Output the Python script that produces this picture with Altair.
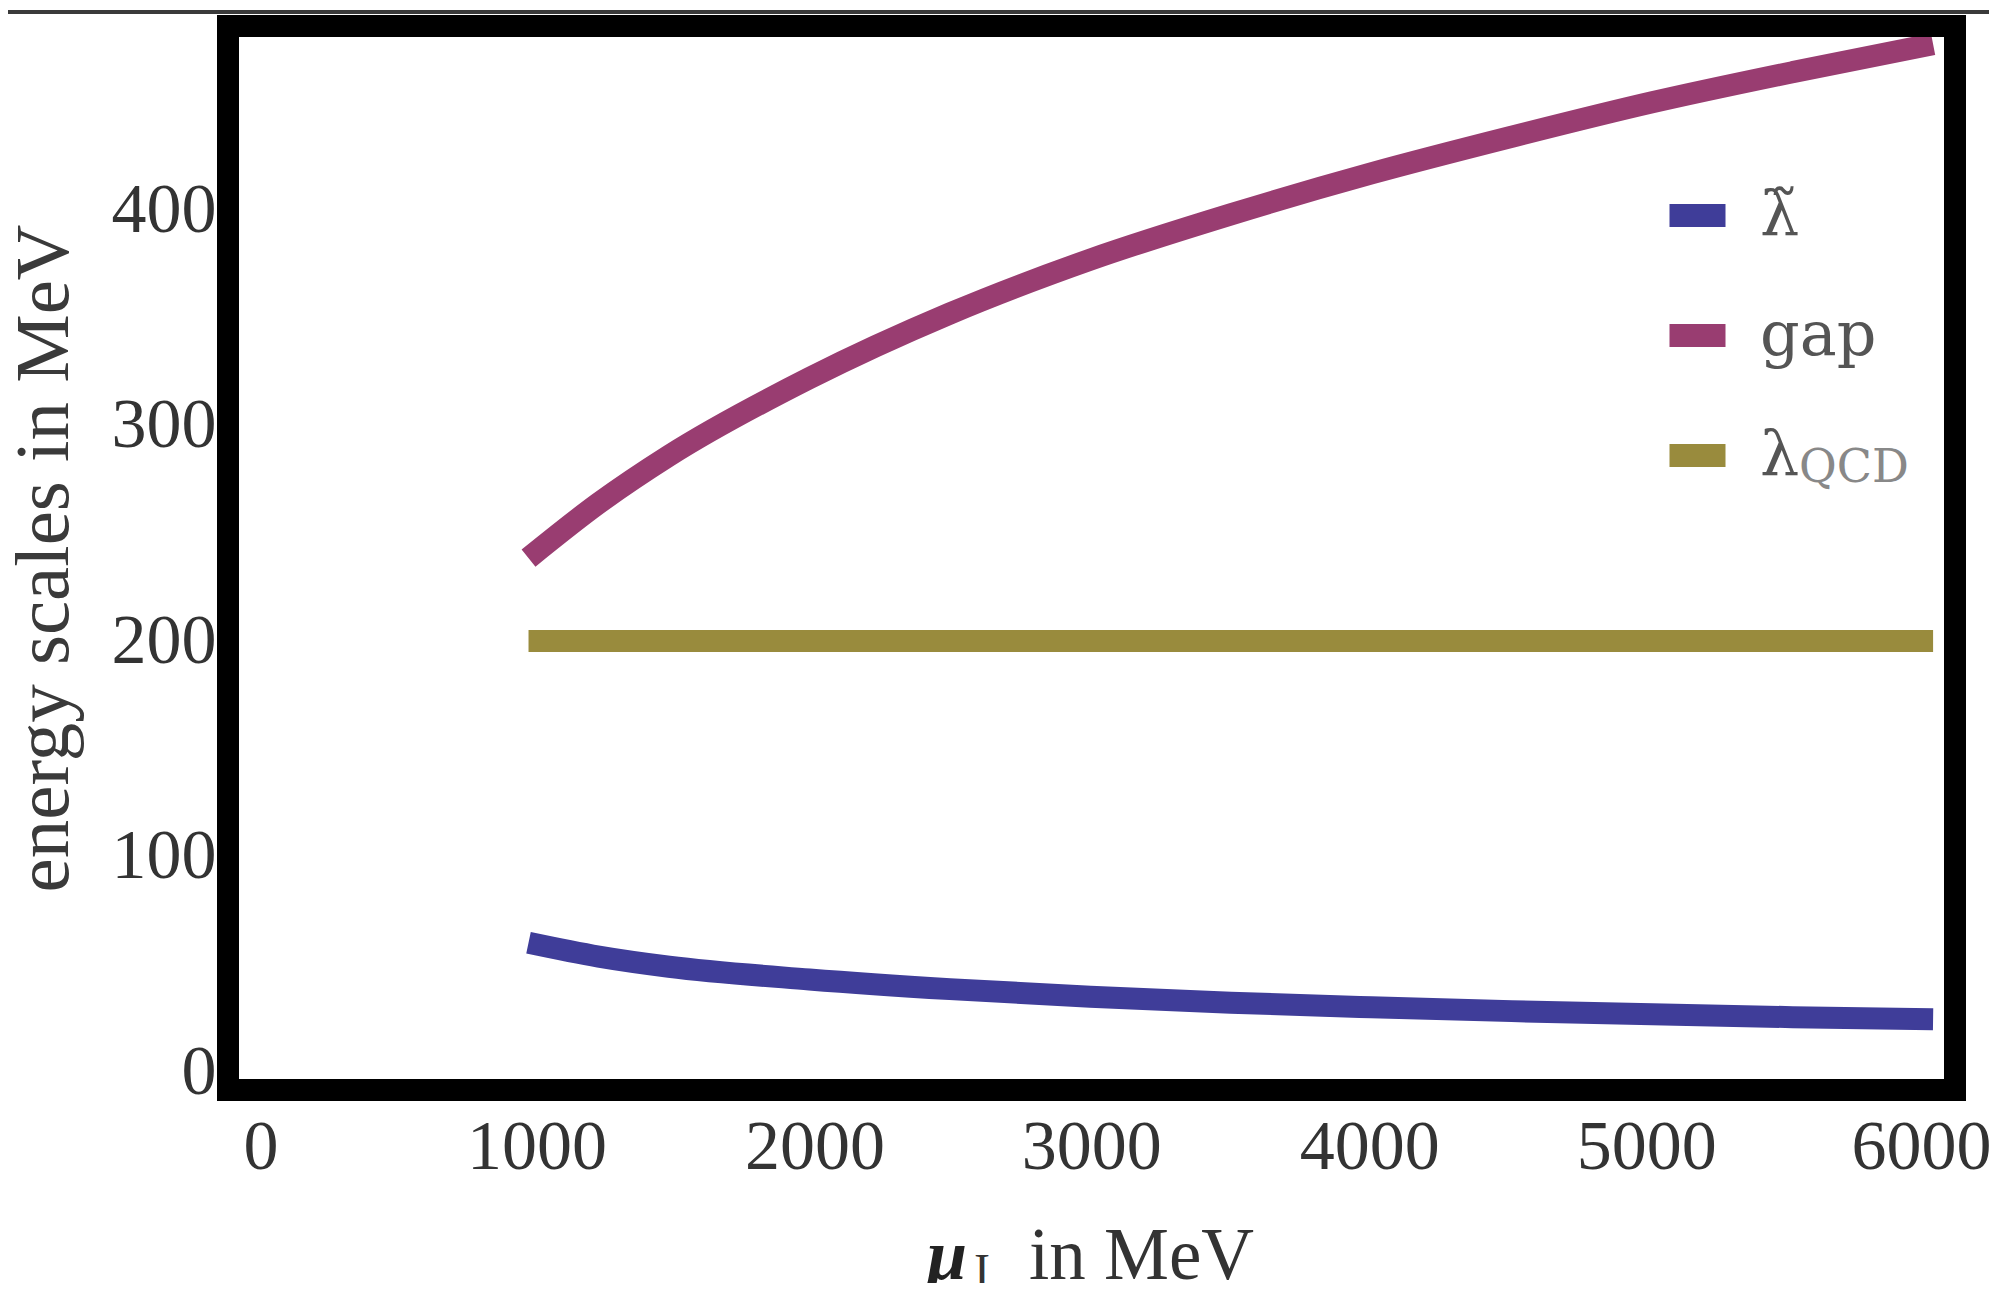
import altair as alt
import pandas as pd

# ---- data ----
mu_vals = [1000, 1250, 1500, 2000, 2500, 3000, 3500, 4000, 4500, 5000, 5500, 6000]
gap_vals = [238.5, 264, 286, 322, 352, 377, 398, 417, 434, 450, 464, 477]
lam_tilde_vals = [60, 53.6, 48.9, 43, 38.5, 35, 32.2, 30.1, 28.3, 26.8, 25.5, 24.5]
qcd_mu = [1000, 6000]
qcd_vals = [200, 200]

series_names = ["λ̃", "gap", "λ"]
series_colors = ["#3F3D99", "#993D71", "#998B3D"]
x_ticks = [0, 1000, 2000, 3000, 4000, 5000, 6000]
y_ticks = [0, 100, 200, 300, 400]

rows = []
for m, v in zip(mu_vals, lam_tilde_vals):
    rows.append({"mu": m, "val": v, "series": series_names[0]})
for m, v in zip(mu_vals, gap_vals):
    rows.append({"mu": m, "val": v, "series": series_names[1]})
for m, v in zip(qcd_mu, qcd_vals):
    rows.append({"mu": m, "val": v, "series": series_names[2]})
df = pd.DataFrame(rows)

W, H = 1727, 1064
FONT = "Liberation Serif"
LFONT = "DejaVu Serif"
TXT = "#333333"

x_label_offset = {
    "condition": [
        {"test": "datum.value == 0", "value": 13},
        {"test": "datum.value == 1000", "value": 8},
        {"test": "datum.value == 2000", "value": 5},
        {"test": "datum.value == 3000", "value": 1},
        {"test": "datum.value == 4000", "value": -2},
        {"test": "datum.value == 5000", "value": -6},
        {"test": "datum.value == 6000", "value": -12},
    ],
    "value": 0,
}

lines = alt.Chart(df).mark_line(strokeWidth=22, interpolate="monotone", strokeCap="butt").encode(
    x=alt.X("mu:Q",
            scale=alt.Scale(domain=[-69.8, 6078], nice=False, zero=False),
            axis=alt.Axis(values=x_ticks, title=None, grid=False, domain=False, ticks=False,
                          tickSize=0, labelFont=FONT, labelFontSize=70, labelColor=TXT,
                          labelPadding=78, labelBaseline="alphabetic", labelFlush=False,
                          labelOverlap=False, labelOffset=x_label_offset, format="d")),
    y=alt.Y("val:Q",
            scale=alt.Scale(domain=[-8.3, 485.4], nice=False, zero=False),
            axis=alt.Axis(values=y_ticks, title="energy scales in MeV", grid=False, domain=False,
                          ticks=False, tickSize=0, labelFont=FONT, labelFontSize=70,
                          labelColor=TXT, labelPadding=12, labelFlush=False, labelOverlap=False,
                          titleFont=FONT, titleFontSize=77, titleFontWeight="normal",
                          titleColor="#3a3a3a", titleX=-161, titleY=532, titleAngle=270,
                          titleAlign="center", titleBaseline="alphabetic", format="d")),
    color=alt.Color("series:N",
                    scale=alt.Scale(domain=series_names, range=series_colors),
                    legend=alt.Legend(orient="none", legendX=1430, legendY=150, title=None,
                                      symbolType="stroke", symbolSize=3136,
                                      symbolStrokeWidth=23, labelFont=LFONT, labelFontSize=62,
                                      labelColor="#555555", labelOffset=23, rowPadding=27,
                                      padding=0)),
    order=alt.Order("mu:Q"),
)

frame = alt.Chart(pd.DataFrame({"a": [0]})).mark_rect(
    fill="white", fillOpacity=0, stroke="black", strokeWidth=22
).encode(x=alt.value(0), x2=alt.value(W), y=alt.value(0), y2=alt.value(H))

top_line = alt.Chart(pd.DataFrame({"a": [0]})).mark_rule(stroke="#3a3a3a", strokeWidth=4).encode(
    x=alt.value(-220), x2=alt.value(W + 34), y=alt.value(-14)
)

one = pd.DataFrame({"a": [0]})
mu_txt = alt.Chart(one).mark_text(text="μ", font=FONT, fontSize=72, fontWeight="bold",
                                  fontStyle="italic", color="#222222", align="left",
                                  baseline="alphabetic").encode(x=alt.value(699), y=alt.value(1253))
sub_txt = alt.Chart(one).mark_text(text="I", font=FONT, fontSize=48, color="#333333",
                                   align="left", baseline="alphabetic").encode(x=alt.value(746), y=alt.value(1261))
in_txt = alt.Chart(one).mark_text(text="in MeV", font=FONT, fontSize=73, color=TXT,
                                  align="left", baseline="alphabetic").encode(x=alt.value(801), y=alt.value(1253))
qcd_txt = alt.Chart(one).mark_text(text="QCD", font=LFONT, fontSize=46, color="#888888",
                                   align="left", baseline="alphabetic").encode(x=alt.value(1571), y=alt.value(456))

chart = alt.layer(top_line, lines, frame, mu_txt, sub_txt, in_txt, qcd_txt).properties(
    width=W, height=H,
    autosize=alt.AutoSizeParams(type="none"),
    padding={"left": 220, "top": 18, "right": 34, "bottom": 193},
    background="white",
).configure_view(stroke=None)

chart.save("out.html", embed_options={"renderer": "svg", "actions": False})
